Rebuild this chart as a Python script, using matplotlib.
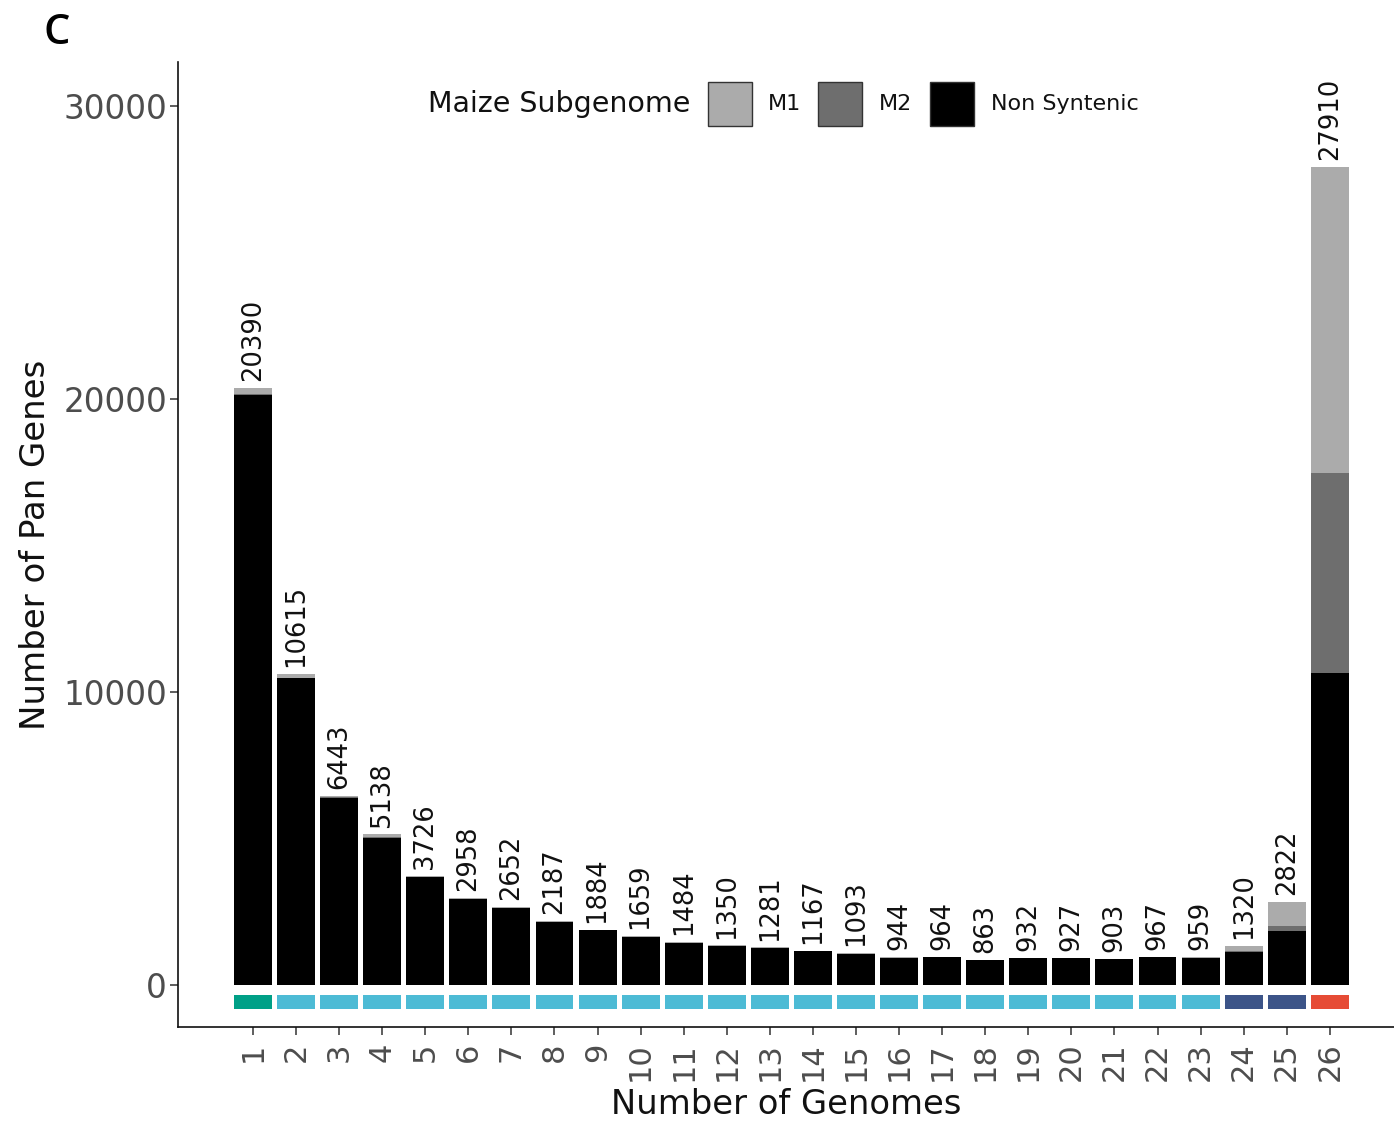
import matplotlib
matplotlib.use("Agg")
import matplotlib.pyplot as plt
from matplotlib.patches import Rectangle

# Pan-gene counts by number of genomes sharing them
genomes = list(range(1, 27))
totals = [20390, 10615, 6443, 5138, 3726, 2958, 2652, 2187, 1884, 1659,
          1484, 1350, 1281, 1167, 1093, 944, 964, 863, 932, 927,
          903, 967, 959, 1320, 2822, 27910]
m1 = [230, 135, 40, 90, 40, 20, 25, 20, 15, 15,
      35, 15, 20, 15, 20, 10, 15, 10, 15, 10,
      10, 15, 40, 154, 822, 10440]
m2 = [20, 10, 5, 15, 5, 5, 5, 5, 5, 5,
      10, 5, 5, 5, 5, 5, 5, 5, 5, 5,
      5, 5, 10, 40, 150, 6820]
non_syntenic = [t - a - b for t, a, b in zip(totals, m1, m2)]

groups = (["Private"] + ["Dispensable"] * 22 + ["Near-core"] * 2 + ["Core"])
group_colors = {"Private": "#00A087", "Dispensable": "#4DBBD5",
                "Near-core": "#3C5488", "Core": "#E64B35"}

subgenome_labels = ["M1", "M2", "Non Syntenic"]
subgenome_colors = {"M1": "#ababab", "M2": "#6e6e6e", "Non Syntenic": "#000000"}

W, H = 1394, 1123
fig = plt.figure(figsize=(W / 100, H / 100), dpi=100)
ax = fig.add_axes([178 / W, 1 - 1027 / H, (W - 178) / W, (1027 - 62) / H])

bw = 0.88
ax.bar(genomes, non_syntenic, width=bw, color=subgenome_colors["Non Syntenic"], linewidth=0)
ax.bar(genomes, m2, width=bw, bottom=non_syntenic, color=subgenome_colors["M2"], linewidth=0)
bottom_m1 = [a + b for a, b in zip(non_syntenic, m2)]
ax.bar(genomes, m1, width=bw, bottom=bottom_m1, color=subgenome_colors["M1"], linewidth=0)

# category strip beneath the bars
ax.bar(genomes, 480, width=bw, bottom=-820,
       color=[group_colors[g] for g in groups], linewidth=0)

for x, t in zip(genomes, totals):
    ax.annotate(str(t), (x, t), xytext=(0, 5), textcoords="offset points",
                rotation=90, ha="center", va="bottom", fontsize=18.5, color="#111111")

ax.set_xlim(-0.74, 27.49)
ax.set_ylim(-1433, 31500)
ax.set_yticks([0, 10000, 20000, 30000])
ax.set_yticklabels(["0", "10000", "20000", "30000"])
ax.set_xticks(genomes)
ax.set_xticklabels([str(g) for g in genomes], rotation=90, va="top", ha="center")

ax.tick_params(axis="both", labelsize=23.5, labelcolor="#4d4d4d", color="#333333",
               length=6, width=1.1)
ax.tick_params(axis="x", labelsize=22)
ax.tick_params(axis="y", pad=2)
ax.tick_params(axis="x", pad=5)

for side in ["top", "right"]:
    ax.spines[side].set_visible(False)
for side in ["left", "bottom"]:
    ax.spines[side].set_linewidth(1.2)
    ax.spines[side].set_color("#111111")

ax.set_xlabel("Number of Genomes", fontsize=24.3, color="#111111", labelpad=5)
ax.set_ylabel("Number of Pan Genes", fontsize=24.5, color="#111111", labelpad=8)

# legend drawn across the top
def fx(px):
    return px / W

def fy(py):
    return 1 - py / H

fig.text(fx(428), fy(104), "Maize Subgenome", fontsize=20.5, color="#111111",
         ha="left", va="center")
key_x = [708, 818, 930]
label_x = [768, 879, 991]
for lab, kx, lx in zip(subgenome_labels, key_x, label_x):
    fig.add_artist(Rectangle((fx(kx), fy(126)), 44 / W, 44 / H,
                             transform=fig.transFigure, facecolor=subgenome_colors[lab],
                             edgecolor="#333333", linewidth=1.0))
    fig.text(fx(lx), fy(104), lab, fontsize=16, color="#111111", ha="left", va="center")

fig.text(fx(43), fy(44), "C", fontsize=30, color="#000000", ha="left", va="baseline",
         family=["Open Sans", "DejaVu Sans"], weight="semibold")

fig.savefig("out.png", dpi=100, facecolor="white")
